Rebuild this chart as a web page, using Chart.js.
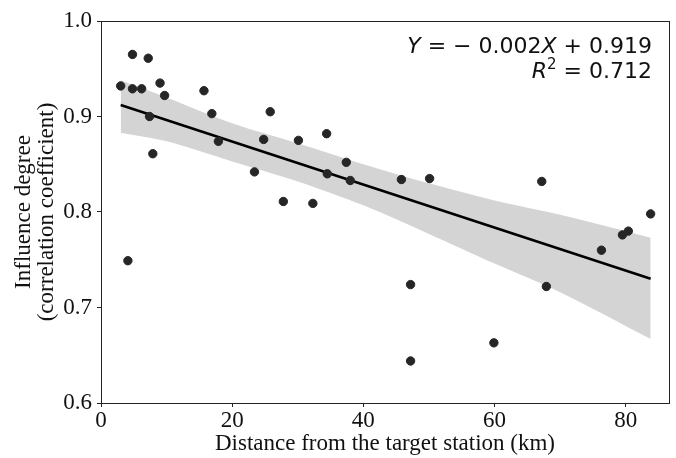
<!DOCTYPE html>
<html>
<head>
  <title>Influence degree vs distance</title>
  <script src="https://cdn.jsdelivr.net/npm/chart.js"></script>
  <style>
    html, body { margin: 0; padding: 0; background: #fff; }
    #wrap { width: 676px; height: 458px; }
  </style>
</head>
<body>
  <div id="wrap"><canvas id="chart" width="676" height="458"></canvas></div>

  <script>
    // station distance (km) and correlation coefficient
    const distKm = [3.0, 4.8, 4.8, 6.2, 7.2, 9.0, 9.7, 7.4, 7.9, 4.1,
                    15.7, 16.9, 17.9, 25.8, 24.8, 23.4, 27.8, 30.1, 34.4, 37.4,
                    34.5, 38.0, 45.8, 50.1, 32.3, 67.2, 47.2, 47.2, 83.8, 80.4,
                    79.5, 76.3, 67.9, 59.9];
    const corr   = [0.932, 0.965, 0.929, 0.929, 0.961, 0.935, 0.922, 0.900, 0.861, 0.749,
                    0.927, 0.903, 0.874, 0.905, 0.876, 0.842, 0.811, 0.875, 0.882, 0.852,
                    0.840, 0.833, 0.834, 0.835, 0.809, 0.832, 0.724, 0.644, 0.798, 0.780,
                    0.776, 0.760, 0.722, 0.663];

    // fitted line end points
    const fitX = [3.0, 83.8];
    const fitY = [0.912, 0.730];

    // confidence band edges
    const bandX     = [3, 10, 20, 30, 40, 50, 60, 70, 83.8];
    const bandUpper = [0.938, 0.920, 0.893, 0.872, 0.850, 0.830, 0.812, 0.797, 0.773];
    const bandLower = [0.883, 0.874, 0.853, 0.832, 0.807, 0.777, 0.746, 0.716, 0.667];

    const xTicks = [0, 20, 40, 60, 80];
    const yTicks = [0.6, 0.7, 0.8, 0.9, 1.0];

    const pts = (xs, ys) => xs.map((x, i) => ({ x, y: ys[i] }));

    // equation text in the top right corner, mathtext-like
    const eqPlugin = {
      id: 'eq',
      afterDraw(chart) {
        const ctx = chart.ctx;
        const right = 652;
        const lines = [
          { y: 53, parts: [
            { t: 'Y', it: true }, { t: ' = \u2212 0.002' }, { t: 'X', it: true }, { t: ' + 0.919' }] },
          { y: 78, parts: [
            { t: 'R', it: true }, { t: '2', sup: true }, { t: ' = 0.712' }] }
        ];
        ctx.save();
        ctx.fillStyle = '#111';
        ctx.textBaseline = 'alphabetic';
        ctx.textAlign = 'left';
        lines.forEach(line => {
          const fontOf = p => (p.it ? 'italic ' : '') + (p.sup ? '15px' : '22px') + ' "DejaVu Sans"';
          let total = 0;
          line.parts.forEach(p => { ctx.font = fontOf(p); total += ctx.measureText(p.t).width; });
          let x = right - total;
          line.parts.forEach(p => {
            ctx.font = fontOf(p);
            ctx.fillText(p.t, x, p.sup ? line.y - 9 : line.y);
            x += ctx.measureText(p.t).width;
          });
        });
        ctx.restore();
      }
    };

    // box around the plot area (top and right spines)
    const boxPlugin = {
      id: 'box',
      afterDatasetsDraw(chart) {
        const a = chart.chartArea, ctx = chart.ctx;
        ctx.save();
        ctx.strokeStyle = '#222';
        ctx.lineWidth = 1;
        ctx.strokeRect(a.left + 0.5, a.top + 0.5, a.right - a.left, a.bottom - a.top);
        ctx.restore();
      }
    };

    const serif = '"Liberation Serif", "Times New Roman", serif';

    new Chart(document.getElementById('chart'), {
      type: 'scatter',
      data: {
        datasets: [
          {
            label: 'stations',
            data: pts(distKm, corr),
            backgroundColor: '#262626',
            borderColor: '#262626',
            pointRadius: 4.2,
            pointHoverRadius: 4.2,
            order: 0
          },
          {
            label: 'fit',
            data: pts(fitX, fitY),
            showLine: true,
            borderColor: '#000',
            borderWidth: 2.6,
            pointRadius: 0,
            order: 1
          },
          {
            label: 'upper',
            data: pts(bandX, bandUpper),
            showLine: true,
            borderWidth: 0,
            borderColor: 'rgba(0,0,0,0)',
            backgroundColor: '#d4d4d4',
            pointRadius: 0,
            tension: 0.3,
            fill: '+1',
            order: 2
          },
          {
            label: 'lower',
            data: pts(bandX, bandLower),
            showLine: true,
            borderWidth: 0,
            borderColor: 'rgba(0,0,0,0)',
            pointRadius: 0,
            tension: 0.3,
            order: 3
          }
        ]
      },
      options: {
        responsive: false,
        animation: false,
        layout: { padding: { top: 21, right: 7, left: 0, bottom: 0 } },
        plugins: {
          legend: { display: false },
          tooltip: { enabled: false }
        },
        scales: {
          x: {
            type: 'linear',
            min: 0,
            max: 86.6,
            afterBuildTicks: s => { s.ticks = xTicks.map(v => ({ value: v })); },
            afterFit: s => { s.height = 55; },
            grid: { drawOnChartArea: false, drawTicks: true, tickLength: 4, color: '#222' },
            border: { display: true, color: '#222' },
            ticks: {
              color: '#111',
              padding: 0,
              font: { family: serif, size: 23 },
              callback: v => String(v)
            },
            title: {
              display: true,
              text: 'Distance from the target station (km)',
              color: '#111',
              padding: { top: -5, bottom: 0 },
              font: { family: serif, size: 23 }
            }
          },
          y: {
            type: 'linear',
            min: 0.6,
            max: 1.0,
            afterBuildTicks: s => { s.ticks = yTicks.map(v => ({ value: v })); },
            afterFit: s => { s.width = 101; },
            grid: { drawOnChartArea: false, drawTicks: true, tickLength: 4, color: '#222' },
            border: { display: true, color: '#222' },
            ticks: {
              color: '#111',
              padding: 5,
              font: { family: serif, size: 23 },
              callback: v => v.toFixed(1)
            },
            title: {
              display: true,
              text: ['Influence degree', '(correlation coefficient)'],
              color: '#111',
              padding: { top: 12, bottom: 0 },
              font: { family: serif, size: 23, lineHeight: 1.0 }
            }
          }
        }
      },
      plugins: [eqPlugin, boxPlugin]
    });
  </script>
</body>
</html>
